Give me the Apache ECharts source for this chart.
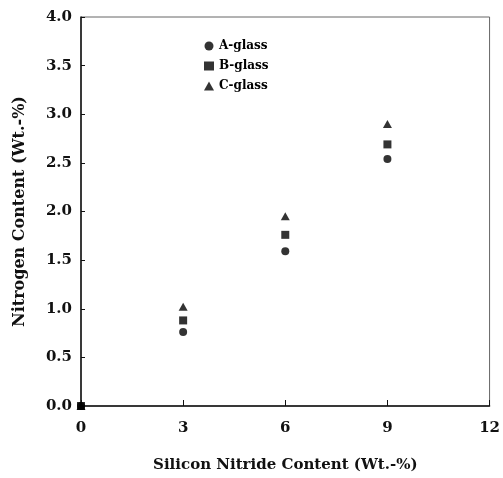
<!DOCTYPE html>
<html>
<head>
<meta charset="utf-8">
<script src="https://cdn.jsdelivr.net/npm/echarts@6/dist/echarts.min.js"></script>
<style>
  html, body { margin: 0; padding: 0; background: #fff; }
  #chart { width: 503px; height: 478px; }
</style>
</head>
<body>
<div id="chart"></div>
<script>
// silicon nitride content (wt.-%)
const siliconNitride = [0, 3, 6, 9];
// nitrogen content (wt.-%) per glass
const aGlass = [0, 0.76, 1.59, 2.54];
const bGlass = [0, 0.88, 1.76, 2.69];
const cGlass = [0, 1.02, 1.95, 2.90];

const font = "DejaVu Serif";

const pairs = (ys) => siliconNitride.map((x, i) => [x, ys[i]]);

const chart = echarts.init(document.getElementById("chart"));
chart.setOption({
  animation: false,
  backgroundColor: "#fff",
  grid: {
    left: 81, right: 8, top: 17, bottom: 71,
    show: true, borderColor: "#666", borderWidth: 1
  },
  legend: {
    orient: "vertical",
    left: 199, top: 35,
    itemWidth: 10, itemHeight: 9,
    itemGap: 8,
    textStyle: { fontFamily: font, fontWeight: "bold", fontSize: 12, color: "#000" },
    data: ["A-glass", "B-glass", "C-glass"]
  },
  xAxis: {
    type: "value",
    min: 0, max: 12, interval: 3,
    name: "Silicon Nitride Content (Wt.-%)",
    nameLocation: "middle",
    nameGap: 52,
    nameTextStyle: { fontFamily: font, fontWeight: "bold", fontSize: 15, color: "#111" },
    axisLine: { show: true, lineStyle: { color: "#111", width: 1.5 } },
    axisTick: { show: true, inside: true, length: 6, lineStyle: { color: "#111" } },
    axisLabel: {
      margin: 15,
      fontFamily: font, fontWeight: "bold", fontSize: 15, color: "#111",
      showMaxLabel: true, showMinLabel: true
    },
    splitLine: { show: false }
  },
  yAxis: {
    type: "value",
    min: 0, max: 4, interval: 0.5,
    name: "Nitrogen Content (Wt.-%)",
    nameLocation: "middle",
    nameGap: 53,
    nameTextStyle: { fontFamily: font, fontWeight: "bold", fontSize: 16, color: "#111" },
    axisLine: { show: true, lineStyle: { color: "#111", width: 1.5 } },
    axisTick: { show: true, inside: true, length: 4, lineStyle: { color: "#111" } },
    axisLabel: {
      margin: 9,
      fontFamily: font, fontWeight: "bold", fontSize: 15, color: "#111",
      formatter: (v) => v.toFixed(1)
    },
    splitLine: { show: false }
  },
  series: [
    {
      name: "A-glass", type: "scatter", symbol: "circle", symbolSize: 8, z: 4,
      itemStyle: { color: "#000" }, data: pairs(aGlass)
    },
    {
      name: "B-glass", type: "scatter", symbol: "rect", symbolSize: 8,
      itemStyle: { color: "#000" }, data: pairs(bGlass)
    },
    {
      name: "C-glass", type: "scatter", symbol: "triangle", symbolSize: [9, 8],
      itemStyle: { color: "#000" }, data: pairs(cGlass)
    }
  ]
});
</script>
</body>
</html>
